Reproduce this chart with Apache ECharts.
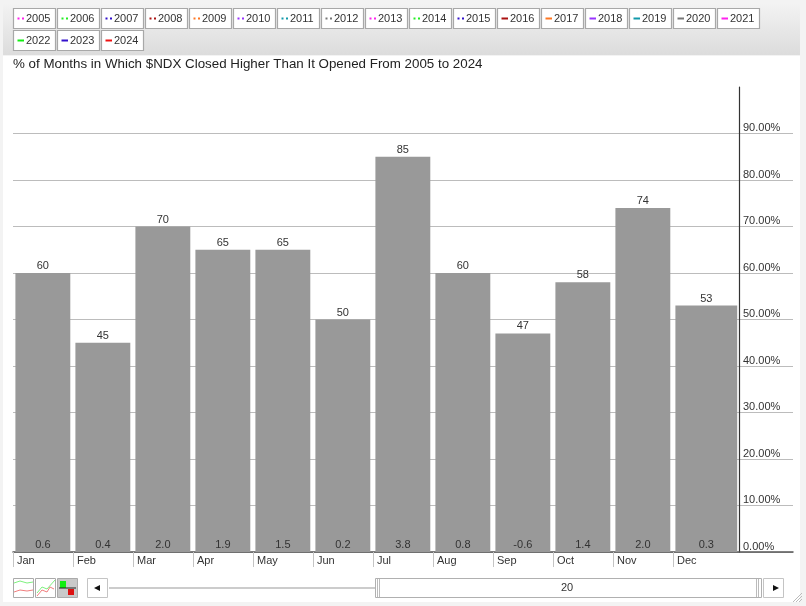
<!DOCTYPE html>
<html>
<head>
<meta charset="utf-8">
<style>html,body{margin:0;padding:0;background:#f3f3f3;overflow:hidden}#c{width:806px;height:606px}</style>
<script src="https://cdn.jsdelivr.net/npm/echarts@6/dist/echarts.min.js"></script>
</head>
<body>
<div id="c"></div>
<script>
const months = ['Jan','Feb','Mar','Apr','May','Jun','Jul','Aug','Sep','Oct','Nov','Dec'];
const pctHigher = [60,45,70,65,65,50,85,60,47,58,74,53];
const avgChange = ['0.6','0.4','2.0','1.9','1.5','0.2','3.8','0.8','-0.6','1.4','2.0','0.3'];
const years = ['2005','2006','2007','2008','2009','2010','2011','2012','2013','2014','2015','2016','2017','2018','2019','2020','2021','2022','2023','2024'];
const yearColors = ['#ff22ee','#22ee22','#3311cc','#aa1111','#ff7722','#9933ff','#1199aa','#777777','#ff22ee','#22ee22','#3311cc','#aa1111','#ff7722','#9933ff','#1199aa','#777777','#ff22ee','#11ee11','#3311cc','#ee1111'];
const FIRST_SOLID_YEAR = '2016';
const titleText = '% of Months in Which $NDX Closed Higher Than It Opened From 2005 to 2024';
const FONT = '"Liberation Sans", Arial, sans-serif';
const TXT = '#333';

const chart = echarts.init(document.getElementById('c'), null, {renderer:'canvas'});
const g = [];
const rect = (x,y,w,h,fill,stroke,lw,z) => g.push({type:'rect',silent:true,z:z||1,shape:{x,y,width:w,height:h},style:{fill:fill||'transparent',stroke:stroke||null,lineWidth:lw||0}});
const line = (x1,y1,x2,y2,stroke,lw,z) => g.push({type:'line',silent:true,z:z||2,shape:{x1,y1,x2,y2},style:{stroke,lineWidth:lw||1}});
const text = (x,y,t,o) => g.push({type:'text',silent:true,z:3,x,y,style:Object.assign({text:t,fill:TXT,font:'11px '+FONT,textVerticalAlign:'middle',verticalAlign:'middle'},o||{})});
const poly = (pts,stroke,z) => g.push({type:'polyline',silent:true,z:z||2,shape:{points:pts},style:{stroke,lineWidth:1,fill:'none'}});

// panel + toolbar
g.push({type:'rect',silent:true,z:-10,shape:{x:3,y:3,width:797,height:52},style:{fill:new echarts.graphic.LinearGradient(0,0,0,1,[{offset:0,color:'#f3f3f3'},{offset:1,color:'#dcdcdc'}])}});
g.push({type:'rect',silent:true,z:-10,shape:{x:3,y:56,width:797,height:546},style:{fill:'#fff'}});

// year buttons
years.forEach((yr,i)=>{
  const row = i<17?0:1, col = i<17?i:i-17;
  const x = 13.5+col*44, y = 8.5+row*22;
  rect(x,y,42,20,'#fff','#a8a8a8',1.2);
  if (yr < FIRST_SOLID_YEAR) {
    rect(x+4,y+9,2,2,yearColors[i]); rect(x+8.5,y+9,2,2,yearColors[i]);
  } else {
    rect(x+4,y+9,6.5,2,yearColors[i]);
  }
  text(x+12.5,y+10.5,yr);
});

// bottom view icons
[13,35,57].forEach((x,i)=>{
  rect(x+.5,578.5,20,19,i===2?'#c9c9c9':'#fff','#aaa',1);
});
poly([[14,583],[20,581],[27,583],[33,582]],'#7ef07e');
poly([[14,592],[20,590],[27,591],[33,590]],'#f07e7e');
poly([[37,593],[42,587],[47,589],[55,580]],'#7ef07e');
poly([[37,596],[42,590],[47,592],[50,587],[54,589]],'#f07e7e');
rect(60,581,6,7,'#11ee11'); rect(68,589,6,6,'#dd1111'); line(59,588,76,588,'#222',1);

// scrollbar
rect(87.5,578.5,20,19,'#fff','#c4c4c4',1);
g.push({type:'polygon',silent:true,z:3,shape:{points:[[94,588],[100,585],[100,591]]},style:{fill:'#111'}});
line(109,588,375,588,'#999',1);
rect(375.5,578.5,386,19,'#fff','#b0b0b0',1);
line(377.5,579,377.5,597,'#bbb',1); line(379.5,579,379.5,597,'#bbb',1);
line(756.5,579,756.5,597,'#bbb',1); line(758.5,579,758.5,597,'#bbb',1);
text(567,588,'20',{align:'center',textAlign:'center'});
rect(763.5,578.5,20,19,'#fff','#c4c4c4',1);
g.push({type:'polygon',silent:true,z:3,shape:{points:[[773,585],[773,591],[779,588]]},style:{fill:'#111'}});
// resize grip
[0,3,6].forEach(d=>line(793+d,602,802,593+d,'#bbb',1));

const axisCats = months.concat(['','']);

chart.setOption({
  animation:false,
  backgroundColor:'transparent',
  textStyle:{fontFamily:FONT},
  title:{text:titleText,left:13,top:58,padding:0,textStyle:{fontSize:13.35,fontWeight:'normal',color:'#222',fontFamily:FONT}},
  graphic:{elements:g},
  grid:{left:13,right:13,top:87,bottom:54,containLabel:false},
  xAxis:{type:'category',data:axisCats,boundaryGap:false,
    axisLine:{show:true,onZero:false,lineStyle:{color:'#555',width:1.5}},
    axisTick:{show:true,length:15,interval:(i)=>i<months.length,lineStyle:{color:'#c4c4c4',width:1}},
    axisLabel:{show:true,interval:0,align:'left',margin:2,padding:[0,0,0,4],color:TXT,fontSize:11,fontFamily:FONT,lineHeight:14},
    splitLine:{show:false}},
  yAxis:{type:'value',position:'right',offset:-54,min:0,max:100,interval:10,
    axisLine:{show:true,lineStyle:{color:'#333',width:1.2}},
    axisTick:{show:false},
    splitLine:{show:true,showMaxLine:false,lineStyle:{color:'#bcbcbc',width:1}},
    axisLabel:{inside:false,margin:4,verticalAlign:'bottom',align:'left',color:TXT,fontSize:11,fontFamily:FONT,padding:[0,0,0,0],
      formatter:v=>v>=100?'':v.toFixed(2)+'%'}},
  series:[{type:'custom',coordinateSystem:'cartesian2d',data:pctHigher.map((v,i)=>[i,v]),
    clip:false,z:5,
    renderItem:(params,api)=>{
      const i=api.value(0), v=api.value(1);
      const left=api.coord([i,0]), right=api.coord([i+1,0]), top=api.coord([i,v]);
      const band=right[0]-left[0];
      const x0=left[0]+band*0.04;
      // last bar runs up to the value axis
      const x1= i===months.length-1 ? right[0]+band*0.07 : left[0]+band*0.955;
      const cx=(x0+x1)/2;
      return {type:'group',children:[
        {type:'rect',shape:{x:x0,y:top[1],width:x1-x0,height:left[1]-top[1]},style:{fill:'#999999'}},
        {type:'text',x:cx,y:top[1]-7,style:{text:String(v),fill:TXT,font:'11px '+FONT,align:'center',verticalAlign:'middle'}},
        {type:'text',x:cx,y:left[1]-7,style:{text:avgChange[i],fill:TXT,font:'11px '+FONT,align:'center',verticalAlign:'middle'}}
      ]};
    }}]
});
</script>
</body>
</html>
